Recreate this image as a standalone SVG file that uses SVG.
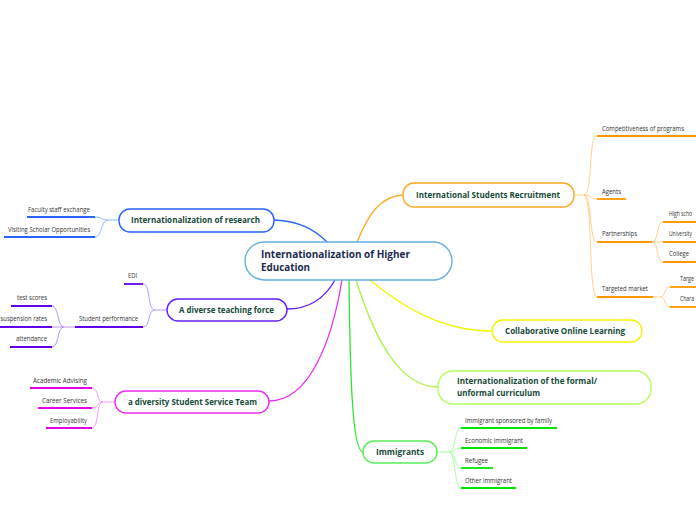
<svg xmlns="http://www.w3.org/2000/svg" width="696" height="520" viewBox="0 0 696 520">
<style>
text{font-family:"Open Sans","Noto Sans","DejaVu Sans",sans-serif}
.node{fill:#fff;stroke-width:1.4}
.nt{font-weight:bold;font-size:8.5px;fill:#154a38}
.ct{font-weight:bold;font-size:10.5px;fill:#1b2a4e}
.st{font-size:6.3px;fill:#333}
.c{fill:none;stroke-width:1.3}
.sc{fill:none;stroke-width:0.9}
.ul{fill:none;stroke-width:1.8}
</style>
<rect width="696" height="520" fill="#fff"/>
<g id="connectors">
<path class="c" stroke="#2962ff" d="M274 220 C300 221,315 230,327 242"/>
<path class="c" stroke="#ffa726" d="M357 242 C368 215,380 196,403 195"/>
<path class="c" stroke="#651fff" d="M335 280 C325 298,310 309,287 309"/>
<path class="c" stroke="#ea2ef0" d="M342 280 C332 340,310 401,269 401"/>
<path class="c" stroke="#2ee62e" d="M349 280 C350 370,352 452,363 452"/>
<path class="c" stroke="#a6f23c" d="M356 280 C375 340,400 387,438 387"/>
<path class="c" stroke="#f5f500" d="M370 280 C400 305,440 331,492 331"/>
<g stroke="#ffcc80">
<path class="sc" d="M573 195 L584 195"/>
<path class="sc" d="M584 195 C593 195,588 136,597 136"/>
<path class="sc" d="M584 195 C591 195,590 199,597 199"/>
<path class="sc" d="M584 195 C592 195,589 242,597 242"/>
<path class="sc" d="M584 195 C593 195,588 297,597 297"/>
<path class="sc" d="M652 242 C659 242,656 222,663 222"/>
<path class="sc" d="M652 242 L663 242"/>
<path class="sc" d="M652 242 C659 242,656 262,663 262"/>
<path class="sc" d="M653 297 L660 297"/>
<path class="sc" d="M660 297 C666 297,664 287,670 287"/>
<path class="sc" d="M660 297 C666 297,664 307,670 307"/>
</g>
<g stroke="#82b1ff">
<path class="sc" d="M119 220 L108 220"/>
<path class="sc" d="M108 220 C101 220,102 217,95 217"/>
<path class="sc" d="M108 220 C101 220,102 237,95 237"/>
</g>
<g stroke="#b388ff">
<path class="sc" d="M167 310 L155 310"/>
<path class="sc" d="M155 310 C147 310,151 284,143 284"/>
<path class="sc" d="M155 310 C147 310,151 327,143 327"/>
<path class="sc" d="M75 327 L64 327"/>
<path class="sc" d="M64 327 C57 327,59 306,52 306"/>
<path class="sc" d="M64 327 L52 327"/>
<path class="sc" d="M64 327 C57 327,59 347,52 347"/>
</g>
<g stroke="#f48fff">
<path class="sc" d="M115 402 L103 402"/>
<path class="sc" d="M103 402 C96 402,99 388,92 388"/>
<path class="sc" d="M103 402 C96 402,99 408,92 408"/>
<path class="sc" d="M103 402 C96 402,99 428,92 428"/>
</g>
<g stroke="#9cff9c">
<path class="sc" d="M437 452 L449 452"/>
<path class="sc" d="M449 452 C456 452,454 428,461 428"/>
<path class="sc" d="M449 452 C456 452,454 448,461 448"/>
<path class="sc" d="M449 452 C456 452,454 468,461 468"/>
<path class="sc" d="M449 452 C456 452,454 488,461 488"/>
</g>
</g>
<g id="central">
<rect class="node" x="245" y="242" width="207" height="38" rx="19" stroke="#64b0e0"/>
<text class="ct" x="261" y="258" textLength="149" lengthAdjust="spacingAndGlyphs">Internationalization of Higher</text>
<text class="ct" x="261" y="271" textLength="49" lengthAdjust="spacingAndGlyphs">Education</text>
</g>
<g id="recruitment">
<rect class="node" x="403" y="183" width="171" height="24" rx="11" stroke="#ffa726"/>
<text class="nt" x="416" y="198" textLength="144" lengthAdjust="spacingAndGlyphs">International Students Recruitment</text>
<g class="ul" stroke="#ff9800">
<path d="M597 136 H696"/><path d="M597 199 H626"/><path d="M597 242 H652"/><path d="M597 297 H653"/>
<path d="M663 222 H696"/><path d="M663 242 H696"/><path d="M663 262 H696"/>
<path d="M670 287 H696"/><path d="M670 307 H696"/>
</g>
<text class="st" x="602" y="131" textLength="82" lengthAdjust="spacingAndGlyphs">Competitiveness of programs</text>
<text class="st" x="602" y="194" textLength="19" lengthAdjust="spacingAndGlyphs">Agents</text>
<text class="st" x="602" y="236" textLength="35" lengthAdjust="spacingAndGlyphs">Partnerships</text>
<text class="st" x="602" y="291" textLength="46" lengthAdjust="spacingAndGlyphs">Targeted market</text>
<text class="st" x="669" y="216" textLength="23" lengthAdjust="spacingAndGlyphs">High scho</text>
<text class="st" x="669" y="236" textLength="23" lengthAdjust="spacingAndGlyphs">University</text>
<text class="st" x="669" y="256" textLength="20" lengthAdjust="spacingAndGlyphs">College</text>
<text class="st" x="680" y="281" textLength="14" lengthAdjust="spacingAndGlyphs">Targe</text>
<text class="st" x="680" y="301" textLength="14" lengthAdjust="spacingAndGlyphs">Chara</text>
</g>
<g id="research">
<rect class="node" x="119" y="209" width="155" height="23" rx="11" stroke="#2962ff"/>
<text class="nt" x="131" y="223" textLength="129" lengthAdjust="spacingAndGlyphs">Internationalization of research</text>
<g class="ul" stroke="#2962ff"><path d="M27 217 H95"/><path d="M4 237 H95"/></g>
<text class="st" x="28" y="212" textLength="62" lengthAdjust="spacingAndGlyphs">Faculty staff exchange</text>
<text class="st" x="8" y="232" textLength="82" lengthAdjust="spacingAndGlyphs">Visiting Scholar Opportunities</text>
</g>
<g id="teaching">
<rect class="node" x="167" y="299" width="120" height="22" rx="11" stroke="#651fff"/>
<text class="nt" x="179" y="313" textLength="95" lengthAdjust="spacingAndGlyphs">A diverse teaching force</text>
<g class="ul" stroke="#6200ea">
<path d="M124 284 H143"/><path d="M75 327 H143"/>
<path d="M11 306 H52"/><path d="M0 327 H52"/><path d="M10 347 H52"/>
</g>
<text class="st" x="128" y="278" textLength="9" lengthAdjust="spacingAndGlyphs">EDI</text>
<text class="st" x="79" y="321" textLength="59" lengthAdjust="spacingAndGlyphs">Student performance</text>
<text class="st" x="17" y="300" textLength="30" lengthAdjust="spacingAndGlyphs">test scores</text>
<text class="st" x="0.5" y="321" textLength="46.5" lengthAdjust="spacingAndGlyphs">suspension rates</text>
<text class="st" x="16" y="341" textLength="31" lengthAdjust="spacingAndGlyphs">attendance</text>
</g>
<g id="service">
<rect class="node" x="115" y="391" width="154" height="22" rx="11" stroke="#ea2ef0"/>
<text class="nt" x="128" y="405" textLength="129" lengthAdjust="spacingAndGlyphs">a diversity Student Service Team</text>
<g class="ul" stroke="#e600e6"><path d="M30 388 H92"/><path d="M38 408 H92"/><path d="M46 428 H92"/></g>
<text class="st" x="33" y="383" textLength="54" lengthAdjust="spacingAndGlyphs">Academic Advising</text>
<text class="st" x="42" y="403" textLength="45" lengthAdjust="spacingAndGlyphs">Career Services</text>
<text class="st" x="50" y="423" textLength="37" lengthAdjust="spacingAndGlyphs">Employability</text>
</g>
<g id="col">
<rect class="node" x="492" y="320" width="150" height="22" rx="11" stroke="#f5f500"/>
<text class="nt" x="505" y="334" textLength="120" lengthAdjust="spacingAndGlyphs">Collaborative Online Learning</text>
</g>
<g id="curriculum">
<rect class="node" x="438" y="371" width="213" height="33" rx="15" stroke="#b2ff59"/>
<text class="nt" x="457" y="384" textLength="140" lengthAdjust="spacingAndGlyphs">Internationalization of the formal/</text>
<text class="nt" x="457" y="396" textLength="83" lengthAdjust="spacingAndGlyphs">unformal curriculum</text>
</g>
<g id="immigrants">
<rect class="node" x="363" y="441" width="74" height="22" rx="11" stroke="#55ee55"/>
<text class="nt" x="376" y="455" textLength="48" lengthAdjust="spacingAndGlyphs">Immigrants</text>
<g class="ul" stroke="#00e600"><path d="M461 428 H557"/><path d="M461 448 H527"/><path d="M461 468 H493"/><path d="M461 488 H516"/></g>
<text class="st" x="465" y="423" textLength="87" lengthAdjust="spacingAndGlyphs">Immigrant sponsored by family</text>
<text class="st" x="465" y="443" textLength="58" lengthAdjust="spacingAndGlyphs">Economic immigrant</text>
<text class="st" x="465" y="463" textLength="23" lengthAdjust="spacingAndGlyphs">Refugee</text>
<text class="st" x="465" y="483" textLength="47" lengthAdjust="spacingAndGlyphs">Other immigrant</text>
</g>
</svg>
